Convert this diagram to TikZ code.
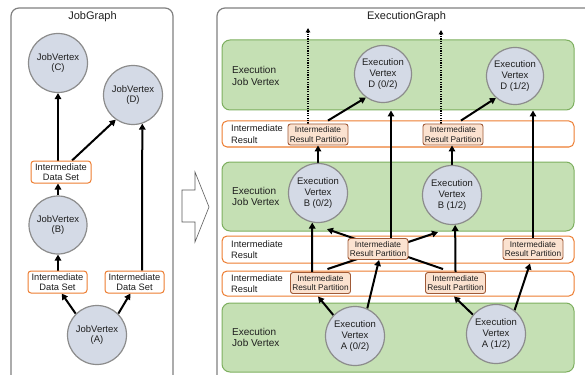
\documentclass[tikz,border=0pt]{standalone}
\usepackage{fontspec}
\setmainfont{Liberation Sans}
\usetikzlibrary{arrows.meta,calc}
\pgfdeclarelayer{bands}
\pgfdeclarelayer{links}
\pgfsetlayers{bands,links,main}

\definecolor{vfill}{RGB}{212,218,230}
\definecolor{vline}{RGB}{140,140,140}
\definecolor{jvfill}{RGB}{197,224,180}
\definecolor{jvline}{RGB}{125,175,95}
\definecolor{orangeline}{RGB}{237,125,49}
\definecolor{partfill}{RGB}{251,226,208}
\definecolor{partline}{RGB}{160,90,55}
\definecolor{panelline}{RGB}{128,128,128}
\definecolor{txt}{RGB}{30,30,30}

\tikzset{
  vertex/.style={circle, draw=vline, line width=1.2pt, fill=vfill, minimum size=59pt,
    inner sep=0pt, align=center, text=txt, font=\fontsize{9.5}{10.8}\selectfont},
  dataset/.style={draw=orangeline, line width=1pt, fill=white, rounded corners=3pt,
    minimum width=60pt, minimum height=22pt, inner sep=0pt, align=center, text=txt,
    font=\fontsize{9.3}{10.6}\selectfont},
  partition/.style={draw=partline, line width=0.9pt, fill=partfill, rounded corners=2.5pt,
    minimum width=60pt, minimum height=21pt, inner sep=0pt, align=center, text=txt,
    font=\fontsize{8.3}{9.8}\selectfont},
  jobband/.style={draw=jvline, line width=1pt, fill=jvfill, rounded corners=8pt,
    minimum width=352pt, inner sep=0pt},
  resband/.style={draw=orangeline, line width=1pt, fill=white, rounded corners=5pt,
    minimum width=352pt, inner sep=0pt},
  panel/.style={draw=panelline, line width=1.2pt, rounded corners=8pt},
  title/.style={text=txt, font=\fontsize{11}{13}\selectfont},
  jvlabel/.style={anchor=west, align=left, inner sep=0pt, text=txt,
    font=\fontsize{10}{11.5}\selectfont},
  irlabel/.style={anchor=west, align=left, inner sep=0pt, text=txt,
    font=\fontsize{9.3}{11.5}\selectfont},
  link/.style={line width=2pt, -{Triangle[length=6pt,width=6.5pt]}},
  outlink/.style={line width=1.6pt, dash pattern=on 1.2pt off 1.2pt,
    -{Triangle[length=4.5pt,width=4.5pt]}}
}

\begin{document}
\begin{tikzpicture}[x=1pt,y=-1pt]
\useasboundingbox (0,0) rectangle (585,374);

% panels and horizontal bands
\begin{pgfonlayer}{bands}
  \draw[panel] (11,8) rectangle (173,390);
  \draw[panel] (217,8) rectangle (600,392);
  \node[jobband, minimum height=70pt] (bandD) at (398,75) {};
  \node[resband, minimum height=26pt] (irB)   at (398,134) {};
  \node[jobband, minimum height=69pt] (bandB) at (398,196.5) {};
  \node[resband, minimum height=27pt] (irA2)  at (398,249.5) {};
  \node[resband, minimum height=25pt] (irA1)  at (398,283.5) {};
  \node[jobband, minimum height=69pt] (bandA) at (398,337.5) {};
\end{pgfonlayer}

% titles
\node[title] (tjob) at (92.5,17) {JobGraph};
\node[title] (texe) at (406.5,17) {ExecutionGraph};

% JobGraph
\node[vertex] (jc) at (58,63)  {JobVertex\\(C)};
\node[vertex] (jd) at (133,95) {JobVertex\\(D)};
\node[dataset] (ids1) at (61,172) {Intermediate\\Data Set};
\node[vertex, minimum size=58pt] (jb) at (58,225) {JobVertex\\(B)};
\node[dataset, minimum width=59pt] (ids2) at (57.5,282) {Intermediate\\Data Set};
\node[dataset, minimum width=59pt] (ids3) at (134.5,282) {Intermediate\\Data Set};
\node[vertex] (ja) at (97,335) {JobVertex\\(A)};

% transformation arrow
\draw[draw=black!65, line width=0.6pt, fill=white]
  (182,190) -- (195,190) -- (195,172) -- (209,207) -- (195,242) -- (195,222) -- (182,222) -- cycle;

% ExecutionGraph labels
\node[jvlabel] (lD) at (232,76)    {Execution\\Job Vertex};
\node[jvlabel] (lB) at (232,196.5) {Execution\\Job Vertex};
\node[jvlabel] (lA) at (232,337.5) {Execution\\Job Vertex};
\node[irlabel] (rB)  at (231,134)   {Intermediate\\Result};
\node[irlabel] (rA2) at (231,249.5) {Intermediate\\Result};
\node[irlabel] (rA1) at (231,283.5) {Intermediate\\Result};

% execution vertices
\node[vertex, minimum size=57pt] (D0) at (383,74) {Execution\\Vertex\\D (0/2)};
\node[vertex, minimum size=57pt] (D1) at (515,76) {Execution\\Vertex\\D (1/2)};
\node[vertex] (B0) at (318,193) {Execution\\Vertex\\B (0/2)};
\node[vertex] (B1) at (452,195) {Execution\\Vertex\\B (1/2)};
\node[vertex] (A0) at (355,336) {Execution\\Vertex\\A (0/2)};
\node[vertex] (A1) at (496,334) {Execution\\Vertex\\A (1/2)};

% result partitions
\node[partition] (pB0)  at (318,134.5) {Intermediate\\Result Partition};
\node[partition] (pB1)  at (453,134.5) {Intermediate\\Result Partition};
\node[partition] (pA2a) at (378,249)   {Intermediate\\Result Partition};
\node[partition] (pA2b) at (533,249)   {Intermediate\\Result Partition};
\node[partition] (pA1a) at (320.5,283) {Intermediate\\Result Partition};
\node[partition] (pA1b) at (455.5,283) {Intermediate\\Result Partition};

\coordinate (outC0) at (308,28);
\coordinate (outC1) at (441,30);

\begin{pgfonlayer}{links}
  % JobGraph edges
  \draw[link] (ja.135) -- (ids2.-70);
  \draw[link] (ja.45) -- (ids3.-110);
  \draw[link] (jb.south |- ids2.north) -- (jb.south);
  \draw[link] (jb.north) -- (jb.north |- ids1.south);
  \draw[link] (jc.south |- ids1.north) -- (jc.south);
  \draw[link] ([xshift=11pt]ids1.north) -- (jd.235);
  \draw[link] ([xshift=7.5pt]ids3.north) -- (jd.-72);

  % ExecutionGraph edges
  \draw[outlink] ([xshift=-10pt]pB0.north) -- (outC0);
  \draw[outlink] ([xshift=-12pt]pB1.north) -- (outC1);
  \draw[link] ([xshift=10pt,yshift=3pt]pB0.north) -- (D0.234);
  \draw[link] ([xshift=8pt,yshift=3pt]pB1.north) -- (D1.229);
  \draw[link] (B0.north) -- (pB0.south);
  \draw[link] (B1.north) -- (B1.north |- pB1.south);
  \draw[link] ([xshift=13pt]pA2a.north) -- ([xshift=13pt]pA2a.north |- bandD.south);
  \draw[link] (pA2b.north) -- (pA2b.north |- bandD.south);
  \draw[link] ([xshift=-8.5pt]pA1a.north) -- (B0.-101);
  \draw[link] (pA1b.north) -- (B1.-84);
  \draw[link] ([xshift=7pt,yshift=3pt]pA1a.north) -- ([xshift=-14pt,yshift=-7pt]B1.south);
  \draw[link] ([xshift=-12.5pt,yshift=3pt]pA1b.north) -- ([xshift=9pt,yshift=-6pt]B0.south);
  \draw[link] (A0.66) -- ([xshift=1pt]pA2a.south);
  \draw[link] (A0.136) -- ([xshift=-2.5pt]pA1a.south |- irA1.south);
  \draw[link] (A1.140) -- ([xshift=-1.5pt]pA1b.south |- irA1.south);
  \draw[link] (A1.52) -- ([xshift=-3pt]pA2b.south |- irA2.south);
\end{pgfonlayer}
\end{tikzpicture}
\end{document}
